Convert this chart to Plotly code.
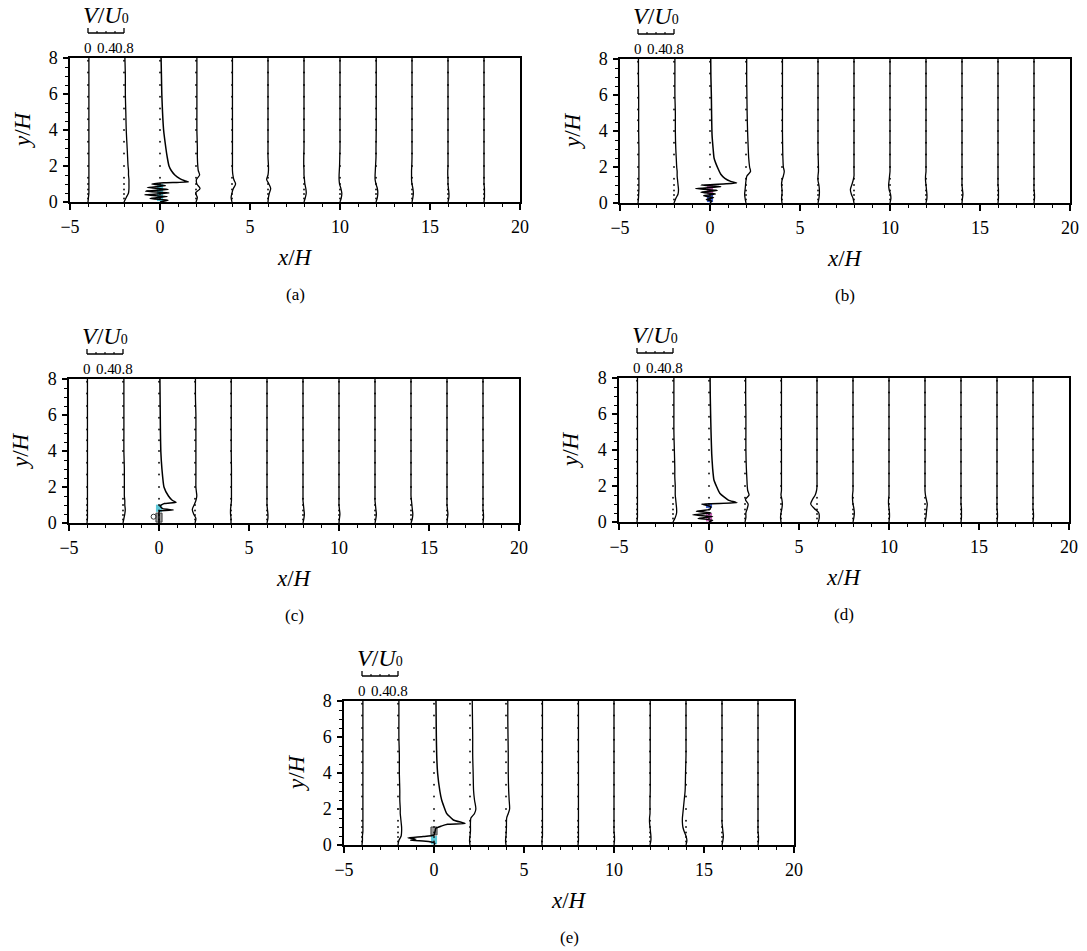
import plotly.graph_objects as go

FIG_W, FIG_H = 1087, 951
FONT = "Liberation Serif, Times New Roman, serif"

# ---------------- data ----------------
STATIONS = [-4, -2, 2, 4, 6, 8, 10, 12, 14, 16, 18]        # profiles away from the block
NEAR_STATION = 0                                            # profile through the block
ALL_STATIONS = [-4, -2, 0, 2, 4, 6, 8, 10, 12, 14, 16, 18]  # dotted reference lines
Y_LEVELS = [0, 0.25, 0.5, 0.75, 1.0, 1.25, 1.5, 1.75, 2.0, 2.5, 3.0, 4.0, 5.0, 6.0, 7.0, 8.0]
DOT_Y = [0.2, 0.45, 0.7, 1.0, 1.35, 2.0, 2.7, 3.35, 4.0, 4.6, 5.2, 5.85, 6.5, 7.2, 7.85]
SCALE = 2.5          # x/H units per unit of V/U0
X_TICKS = [-5, 0, 5, 10, 15, 20]
Y_TICKS = [0, 2, 4, 6, 8]
KEY_TICKS = [0, 0.4, 0.8]
KEY_MINOR = [0.2, 0.6]
PANEL_LABELS = ["(a)", "(b)", "(c)", "(d)", "(e)"]

# V/U0 profiles (one row per station in STATIONS, values at Y_LEVELS)
V_A = [
    [0, 0.01, 0.02, 0.02, 0.02, 0.02, 0.02, 0.02, 0.02, 0.02, 0.02, 0.02, 0.02, 0.02, 0.02, 0.02],
    [0, 0.05, 0.10, 0.11, 0.11, 0.11, 0.10, 0.10, 0.09, 0.08, 0.07, 0.05, 0.04, 0.03, 0.03, 0.02],
    [0, 0.03, -0.01, 0.09, 0.02, 0.01, 0.08, 0.05, 0.04, 0.03, 0.03, 0.02, 0.02, 0.02, 0.02, 0.02],
    [0, -0.02, 0.0, 0.03, 0.08, 0.04, 0.02, 0.01, 0.01, 0.01, 0.01, 0.01, 0.01, 0.01, 0.01, 0.01],
    [0, 0.01, 0.03, 0.06, 0.02, -0.03, 0.0, 0.01, 0.01, 0.0, 0.0, 0.0, 0.0, 0.0, 0.0, 0.0],
    [0, 0.03, 0.05, 0.04, 0.02, 0.01, 0.0, 0.0, -0.005, -0.005, 0, 0, 0, 0, 0, 0],
    [0, 0.03, 0.04, 0.02, -0.01, -0.02, -0.02, -0.015, -0.01, -0.005, 0, 0, 0, 0, 0, 0],
    [0, 0.03, 0.04, 0.03, 0.0, -0.02, -0.02, -0.015, -0.01, 0.0, 0.0, 0.005, 0.005, 0.005, 0.005, 0.005],
    [0, 0.02, 0.03, 0.02, 0.0, -0.01, -0.01, -0.01, -0.005, 0, 0, 0, 0, 0, 0, 0],
    [0, 0.02, 0.02, 0.01, 0.0, 0.0, -0.005, -0.005, 0, 0, 0, 0, 0, 0, 0, 0],
    [0, 0.01, 0.01, 0.01, 0, 0, 0, 0, 0, 0, 0, 0, 0, 0, 0, 0],
]
V_B = [
    [0, 0.01, 0.015, 0.02, 0.02, 0.02, 0.02, 0.02, 0.02, 0.02, 0.02, 0.015, 0.015, 0.015, 0.01, 0.01],
    [0, 0.04, 0.09, 0.10, 0.09, 0.08, 0.07, 0.07, 0.06, 0.05, 0.04, 0.03, 0.03, 0.02, 0.02, 0.02],
    [0, -0.02, -0.03, -0.02, -0.01, 0.0, 0.02, 0.10, 0.08, 0.06, 0.05, 0.035, 0.025, 0.02, 0.015, 0.015],
    [0, -0.01, 0.0, 0.0, -0.01, 0.0, 0.03, 0.05, 0.03, 0.02, 0.015, 0.01, 0.01, 0.01, 0.01, 0.01],
    [0, 0.02, 0.03, 0.03, 0.02, 0.0, 0.0, 0.01, 0.01, 0.005, 0, 0, 0, 0, 0, 0],
    [0, -0.02, -0.06, -0.08, -0.05, -0.02, 0.0, 0.0, 0.0, 0, 0, 0, 0, 0, 0, 0],
    [0, 0.02, 0.01, -0.02, -0.03, -0.02, -0.01, 0, 0, 0, 0, 0, 0, 0, 0, 0],
    [0, 0.02, 0.02, 0.01, 0.0, -0.01, -0.01, 0, 0, 0, 0, 0, 0, 0, 0, 0],
    [0, 0.01, 0.02, 0.01, 0.0, 0, 0, 0, 0, 0, 0, 0, 0, 0, 0, 0],
    [0, 0.01, 0.01, 0.01, 0, 0, 0, 0, 0, 0, 0, 0, 0, 0, 0, 0],
    [0, 0.01, 0.01, 0.0, 0, 0, 0, 0, 0, 0, 0, 0, 0, 0, 0, 0],
]
V_C = [
    [0, 0.01, 0.01, 0.01, 0.01, 0.01, 0.01, 0.01, 0.01, 0.01, 0.01, 0.01, 0.01, 0.01, 0.01, 0.01],
    [0, 0.02, 0.04, 0.05, 0.04, 0.04, 0.03, 0.03, 0.03, 0.03, 0.03, 0.02, 0.02, 0.02, 0.02, 0.02],
    [0, 0.02, -0.03, -0.06, -0.02, 0.02, 0.04, 0.03, 0.02, 0.02, 0.02, 0.02, 0.02, 0.02, 0.01, 0.01],
    [0, 0.0, -0.01, -0.01, 0.0, 0.01, 0.01, 0.01, 0.01, 0.01, 0.01, 0.005, 0.005, 0.005, 0.005, 0.005],
    [0, 0.02, 0.02, 0.01, 0, 0, 0, 0, 0, 0, 0, 0, 0, 0, 0, 0],
    [0, 0.02, 0.03, 0.02, 0.01, 0, 0, 0, 0, 0, 0, 0, 0, 0, 0, 0],
    [0, 0.01, 0.02, 0.01, 0, 0, 0, 0, 0, 0, 0, 0, 0, 0, 0, 0],
    [0, 0.02, 0.03, 0.02, 0.01, 0, 0, 0, 0, 0, 0, 0, 0, 0, 0, 0],
    [0, 0.03, 0.04, 0.03, 0.02, 0.01, 0, 0, 0, 0, 0, 0, 0, 0, 0, 0],
    [0, 0.01, 0.02, 0.01, 0, 0, 0, 0, 0, 0, 0, 0, 0, 0, 0, 0],
    [0, 0.01, 0.01, 0.0, 0, 0, 0, 0, 0, 0, 0, 0, 0, 0, 0, 0],
]
V_D = [
    [0, 0.01, 0.01, 0.01, 0.01, 0.01, 0.01, 0.01, 0.01, 0.01, 0.01, 0.01, 0.01, 0.01, 0.01, 0.01],
    [0, 0.05, 0.08, 0.08, 0.07, 0.06, 0.05, 0.05, 0.05, 0.04, 0.04, 0.03, 0.02, 0.02, 0.02, 0.02],
    [0, 0.02, 0.02, 0.05, 0.07, 0.01, 0.09, 0.06, 0.05, 0.04, 0.03, 0.02, 0.02, 0.02, 0.015, 0.015],
    [0, -0.01, 0.0, 0.02, 0.03, 0.02, 0.0, 0.01, 0.01, 0.01, 0.01, 0.01, 0.01, 0.01, 0.01, 0.01],
    [0.03, 0.05, 0.04, -0.06, -0.14, -0.1, -0.04, -0.01, 0, 0, 0, 0, 0, 0, 0, 0],
    [0, 0.02, 0.03, 0.02, 0.0, -0.01, -0.01, 0, 0, 0, 0, 0, 0, 0, 0, 0],
    [0, 0.01, 0.01, 0.0, -0.01, -0.01, 0, 0, 0, 0, 0, 0, 0, 0, 0, 0],
    [0, 0.02, 0.03, 0.04, 0.05, 0.03, 0.01, 0, 0, 0, 0, 0, 0, 0, 0, 0],
    [0, 0.01, 0.01, 0.01, 0, 0, 0, 0, 0, 0, 0, 0, 0, 0, 0, 0],
    [0, 0.01, 0.01, 0.0, 0, 0, 0, 0, 0, 0, 0, 0, 0, 0, 0, 0],
    [0, 0.01, 0.01, 0.0, 0, 0, 0, 0, 0, 0, 0, 0, 0, 0, 0, 0],
]
V_E = [
    [0, 0.01, 0.01, 0.02, 0.02, 0.02, 0.02, 0.02, 0.02, 0.02, 0.02, 0.02, 0.02, 0.02, 0.02, 0.02],
    [0, 0.02, 0.07, 0.08, 0.08, 0.07, 0.06, 0.05, 0.05, 0.04, 0.04, 0.03, 0.03, 0.02, 0.02, 0.02],
    [0, -0.01, 0.0, 0.01, 0.01, 0.01, 0.02, 0.10, 0.13, 0.10, 0.08, 0.07, 0.06, 0.06, 0.055, 0.05],
    [0, -0.01, 0.0, 0.005, 0.01, 0.01, 0.015, 0.05, 0.08, 0.07, 0.06, 0.05, 0.05, 0.045, 0.04, 0.04],
    [0, 0.0, 0.01, 0.01, 0.01, 0.01, 0.01, 0.01, 0.01, 0.01, 0.01, 0.01, 0.01, 0.01, 0.01, 0.01],
    [0, 0.01, 0.01, 0.01, 0.01, 0.01, 0.01, 0.01, 0.01, 0.01, 0.01, 0.01, 0.01, 0.01, 0.01, 0.01],
    [0, 0.01, 0.01, 0.0, 0, 0, 0, 0, 0, 0, 0, 0, 0, 0, 0, 0],
    [0, 0.02, 0.02, 0.01, 0.0, -0.01, -0.01, 0, 0, 0, 0.005, 0.005, 0.005, 0.005, 0.005, 0.005],
    [0, 0.02, 0.0, -0.04, -0.07, -0.08, -0.08, -0.07, -0.06, -0.04, -0.02, -0.01, 0, 0, 0, 0],
    [0, 0.02, 0.03, 0.02, 0.01, 0, 0, 0, 0, 0, 0, 0, 0, 0, 0, 0],
    [0, 0.01, 0.01, 0.0, 0, 0, 0, 0, 0, 0, 0, 0, 0, 0, 0, 0],
]

# profiles through the block at x/H = 0 (own heights)
Y0_A = [0, 0.1, 0.2, 0.3, 0.4, 0.5, 0.6, 0.7, 0.8, 0.9, 1.0, 1.07, 1.12, 1.18, 1.3, 1.5, 1.75, 2.0, 2.5, 3.0, 4.0, 5.0, 6.0, 7.0, 8.0]
V0_A = [0, 0.18, -0.22, 0.16, -0.34, 0.2, -0.32, 0.18, -0.28, 0.12, -0.18, 0.08, 0.63, 0.55, 0.44, 0.33, 0.25, 0.2, 0.16, 0.13, 0.08, 0.056, 0.04, 0.032, 0.024]
Y0_B = [0, 0.1, 0.2, 0.3, 0.4, 0.5, 0.6, 0.7, 0.8, 0.9, 1.0, 1.07, 1.12, 1.2, 1.37, 1.6, 1.9, 2.5, 3.0, 3.8, 5.0, 6.0, 7.0, 8.0]
V0_B = [0, 0.04, -0.08, 0.08, -0.14, 0.12, -0.2, 0.16, -0.32, 0.24, -0.2, 0.36, 0.59, 0.46, 0.33, 0.24, 0.18, 0.09, 0.07, 0.045, 0.035, 0.03, 0.02, 0.016]
Y0_C = [0, 0.3, 0.6, 0.68, 0.72, 0.8, 0.95, 1.08, 1.15, 1.25, 1.5, 2.0, 3.0, 4.0, 5.0, 6.0, 7.0, 8.0]
V0_C = [0, 0, 0, 0.02, 0.32, 0.08, 0.02, 0.12, 0.38, 0.3, 0.21, 0.11, 0.065, 0.04, 0.032, 0.028, 0.024, 0.02]
Y0_D = [0, 0.1, 0.2, 0.3, 0.4, 0.5, 0.6, 0.7, 0.85, 1.0, 1.07, 1.22, 1.6, 2.33, 3.0, 3.8, 5.0, 6.0, 7.0, 8.0]
V0_D = [0, 0.08, -0.24, 0.08, -0.36, 0.04, -0.28, 0.02, 0.04, -0.16, 0.62, 0.43, 0.24, 0.11, 0.08, 0.06, 0.045, 0.036, 0.028, 0.024]
Y0_E = [0, 0.1, 0.2, 0.27, 0.33, 0.4, 0.47, 0.55, 0.7, 0.93, 1.05, 1.15, 1.2, 1.39, 1.76, 2.5, 3.0, 4.0, 5.0, 6.0, 7.0, 8.0]
V0_E = [0, 0.02, -0.12, -0.52, -0.4, -0.58, -0.24, 0.0, 0.02, 0.04, 0.16, 0.3, 0.69, 0.43, 0.28, 0.17, 0.13, 0.08, 0.06, 0.052, 0.048, 0.044]

CYAN, PINK, BLUE, GREY = "#5ec8d8", "#c565b5", "#3a5ccc", "#9c9c9c"
# coloured block segments at x/H = 0: (bottom, top, colour)
BLOCKS_A = [(0.05, 1.0, CYAN)]
BLOCKS_B = [(0.5, 1.0, PINK), (0.05, 0.45, BLUE)]
BLOCKS_C = [(0.62, 1.02, CYAN), (0.05, 0.55, GREY)]
BLOCKS_D = [(0.78, 1.0, BLUE), (0.03, 0.5, PINK)]
BLOCKS_E = [(0.56, 1.0, GREY), (0.04, 0.5, CYAN)]
# small open circle beside the block in panel (c): x/H, y/H
RING_C_X = [-0.3]
RING_C_Y = [0.35]

# ---------------- layout constants (pixels) ----------------
PANEL_BOX = [(70, 520, 58, 202), (620, 1070, 59, 203), (69, 519, 379, 523),
             (619, 1069, 378, 522), (344, 794, 701, 845)]
XR = (-5, 20)
YR = (0, 8)

PROFILES = [V_A, V_B, V_C, V_D, V_E]
NEAR_Y = [Y0_A, Y0_B, Y0_C, Y0_D, Y0_E]
NEAR_V = [V0_A, V0_B, V0_C, V0_D, V0_E]
BLOCKS = [BLOCKS_A, BLOCKS_B, BLOCKS_C, BLOCKS_D, BLOCKS_E]


def px(x):
    return x / FIG_W


def py(y):
    return 1 - y / FIG_H


def data_to_px(box, x):
    x0, x1 = box[0], box[1]
    return x0 + (x - XR[0]) / (XR[1] - XR[0]) * (x1 - x0)


fig = go.Figure()
shapes = []
annotations = []
axis_font = dict(family=FONT, size=18, color="black")

for i in range(5):
    sfx = "" if i == 0 else str(i + 1)
    xa, ya = "x" + sfx, "y" + sfx
    box = PANEL_BOX[i]

    # blocks
    for (b0, b1, col) in BLOCKS[i]:
        shapes.append(dict(type="rect", xref=xa, yref=ya, x0=NEAR_STATION - 0.17, x1=NEAR_STATION + 0.17,
                           y0=b0, y1=b1, fillcolor=col,
                           line=dict(color="#404040" if col == GREY else col, width=1 if col == GREY else 0),
                           layer="below"))
    if i == 2:
        fig.add_trace(go.Scatter(x=RING_C_X, y=RING_C_Y, mode="markers", xaxis=xa, yaxis=ya,
                                 marker=dict(symbol="circle-open", size=5, color="#333333", line=dict(width=1)),
                                 showlegend=False, hoverinfo="skip"))

    # dotted reference lines
    dx, dy = [], []
    for s in ALL_STATIONS:
        dx += [s] * len(DOT_Y)
        dy += DOT_Y
    fig.add_trace(go.Scatter(x=dx, y=dy, mode="markers", xaxis=xa, yaxis=ya,
                             marker=dict(size=2, color="#222222"), showlegend=False, hoverinfo="skip"))

    # profiles away from the block
    for s, vals in zip(STATIONS, PROFILES[i]):
        fig.add_trace(go.Scatter(x=[s + v * SCALE for v in vals], y=Y_LEVELS, mode="lines",
                                 xaxis=xa, yaxis=ya, line=dict(color="black", width=1.3, shape="spline", smoothing=0.8),
                                 showlegend=False, hoverinfo="skip"))
    # profile through the block
    fig.add_trace(go.Scatter(x=[NEAR_STATION + v * SCALE for v in NEAR_V[i]], y=NEAR_Y[i], mode="lines",
                             xaxis=xa, yaxis=ya, line=dict(color="black", width=1.5, shape="spline", smoothing=0.4),
                             showlegend=False, hoverinfo="skip"))

    dom_x = [px(box[0]), px(box[1])]
    dom_y = [py(box[3]), py(box[2])]
    fig.update_layout(**{
        "xaxis" + sfx: dict(domain=dom_x, range=list(XR), anchor=ya, showgrid=False, zeroline=False,
                            showline=True, linecolor="black", linewidth=1.6, mirror=True,
                            tick0=-5, dtick=5, ticks="outside", ticklen=6, tickwidth=1.2, tickcolor="black",
                            minor=dict(dtick=1, ticks="outside", ticklen=3, tickwidth=1, tickcolor="black"),
                            tickfont=axis_font, ticklabelstandoff=2, fixedrange=True, automargin=False),
        "yaxis" + sfx: dict(domain=dom_y, range=list(YR), anchor=xa, showgrid=False, zeroline=False,
                            showline=True, linecolor="black", linewidth=1.6, mirror=True,
                            tick0=0, dtick=2, ticks="outside", ticklen=5, tickwidth=1.2, tickcolor="black",
                            minor=dict(dtick=0.5, ticks="outside", ticklen=3, tickwidth=1, tickcolor="black"),
                            tickfont=axis_font, ticklabelstandoff=2, fixedrange=True, automargin=False),
    })

    cx = (box[0] + box[1]) / 2
    cy = (box[2] + box[3]) / 2
    annotations.append(dict(x=px(cx), y=py(box[3] + 55), xref="paper", yref="paper", showarrow=False,
                            text="<i>x</i>/<i>H</i>", font=dict(family=FONT, size=23, color="black"),
                            xanchor="center", yanchor="middle"))
    annotations.append(dict(x=px(cx), y=py(box[3] + 92), xref="paper", yref="paper", showarrow=False,
                            text=PANEL_LABELS[i], font=dict(family=FONT, size=17, color="black"),
                            xanchor="center", yanchor="middle"))
    annotations.append(dict(x=px(box[0] - 48), y=py(cy), xref="paper", yref="paper", showarrow=False,
                            text="<i>y</i>/<i>H</i>", textangle=-90,
                            font=dict(family=FONT, size=23, color="black"),
                            xanchor="center", yanchor="middle"))

    # V/U0 scale key
    k0 = data_to_px(box, ALL_STATIONS[0] + KEY_TICKS[0] * SCALE)
    k1 = data_to_px(box, ALL_STATIONS[0] + KEY_TICKS[-1] * SCALE)
    bar_y = box[2] - 25
    shapes.append(dict(type="line", xref="paper", yref="paper", x0=px(k0), x1=px(k1),
                       y0=py(bar_y), y1=py(bar_y), line=dict(color="black", width=1.3)))
    for t in [KEY_TICKS[0], KEY_TICKS[-1]]:
        kx = data_to_px(box, ALL_STATIONS[0] + t * SCALE)
        shapes.append(dict(type="line", xref="paper", yref="paper", x0=px(kx), x1=px(kx),
                           y0=py(bar_y), y1=py(bar_y - 5), line=dict(color="black", width=1.3)))
    for t in KEY_MINOR + [KEY_TICKS[1]]:
        kx = data_to_px(box, ALL_STATIONS[0] + t * SCALE)
        shapes.append(dict(type="line", xref="paper", yref="paper", x0=px(kx), x1=px(kx),
                           y0=py(bar_y), y1=py(bar_y - 2), line=dict(color="black", width=1.1)))
    for t in KEY_TICKS:
        kx = data_to_px(box, ALL_STATIONS[0] + t * SCALE)
        annotations.append(dict(x=px(kx), y=py(box[2] - 10), xref="paper", yref="paper", showarrow=False,
                                text=str(t), font=dict(family=FONT, size=15, color="black"),
                                xanchor="center", yanchor="middle"))
    annotations.append(dict(x=px((k0 + k1) / 2), y=py(box[2] - 43), xref="paper", yref="paper",
                            showarrow=False,
                            text="<i>V</i>/<i>U</i><span style='font-size:14px'>0</span>",
                            font=dict(family=FONT, size=24, color="black"),
                            xanchor="center", yanchor="middle"))

fig.update_layout(width=FIG_W, height=FIG_H, margin=dict(l=0, r=0, t=0, b=0, autoexpand=False),
                  paper_bgcolor="white", plot_bgcolor="white",
                  shapes=shapes, annotations=annotations, showlegend=False)

fig.write_html("out.html", config={"displayModeBar": False, "staticPlot": True},
               post_script="document.body.style.margin='0';document.body.style.overflow='hidden';")
